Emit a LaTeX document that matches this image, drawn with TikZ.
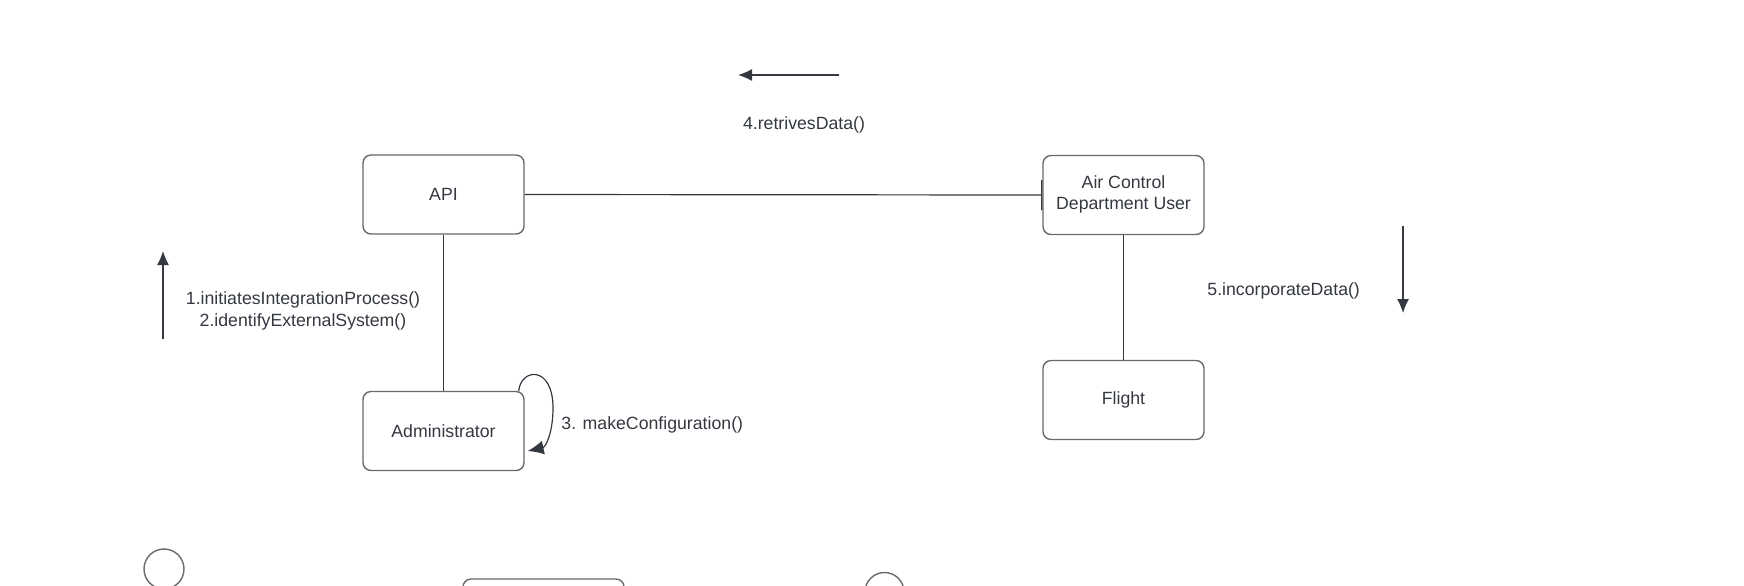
\documentclass[tikz,border=0pt]{standalone}
\usepackage{fontspec}
\setmainfont{Liberation Sans}
\usetikzlibrary{arrows.meta}
\definecolor{ink}{RGB}{52,56,64}
\definecolor{frame}{RGB}{105,105,105}
\begin{document}
\begin{tikzpicture}[x=0.5pt,y=-0.5pt,
        every node/.style={text=ink,font=\fontsize{8.85pt}{10.5pt}\selectfont},
        obj/.style={draw=frame,line width=0.7pt,rounded corners=4pt,minimum width=80.5pt,minimum height=39.5pt,inner sep=0pt,align=center},
        msg/.style={inner sep=0pt,align=center}]
        \tikzset{edge/.style = {-{Latex[length=7pt,width=6pt]},draw=ink,line width=0.6pt}}
        \tikzset{link/.style = {draw=ink,line width=0.6pt}}
        \useasboundingbox (0,0) rectangle (1744,585);

        \node[obj] (API) at (443.5,194.5) {API};
        \node[obj] (ACD) at (1123.5,195) {Air Control\\Department User\rule[-2.5pt]{0pt}{1pt}};
        \node[obj] (Admin) at (443.5,431) {Administrator};
        \node[obj] (Flight) at (1123.5,400) {Flight};

        \node[obj] (Box) at (543.5,618.5) {};
        \node[draw=frame,line width=0.7pt,circle,minimum size=20pt,inner sep=0pt] (HeadA) at (164,569) {};
        \node[draw=frame,line width=0.7pt,circle,minimum size=19.5pt,inner sep=0pt] (HeadB) at (884.5,592) {};

        \draw[link,-{Bar[width=15pt]}] (API.east) to (ACD.west);
        \draw[link] (API) to (Admin);
        \draw[link] (ACD) to (Flight);
        \draw[edge,-{Latex[length=8pt,width=7pt]}] ([xshift=-3pt]Admin.north east) .. controls (521,368) and (553,365) .. (553,408)
                .. controls (553,432) and (546,447) .. ([xshift=1.5pt,yshift=-10pt]Admin.east);

        \coordinate (M1a) at (163,339);
        \coordinate (M1b) at (163,251);
        \coordinate (M4a) at (839,75);
        \coordinate (M4b) at (738,75);
        \coordinate (M5a) at (1403,226);
        \coordinate (M5b) at (1403,313);
        \draw[edge] (M1a) to (M1b);
        \draw[edge] (M4a) to (M4b);
        \draw[edge] (M5a) to (M5b);

        \node[msg,font=\fontsize{8.85pt}{11pt}\selectfont] (L12) at (303,311) {1.initiatesIntegrationProcess()\\2.identifyExternalSystem()};
        \node[msg,anchor=west] (L3) at (561,425) {3. makeConfiguration()};
        \node[msg] (L4) at (804,125) {4.retrivesData()};
        \node[msg,anchor=west] (L5) at (1207,291) {5.incorporateData()};
\end{tikzpicture}
\end{document}
